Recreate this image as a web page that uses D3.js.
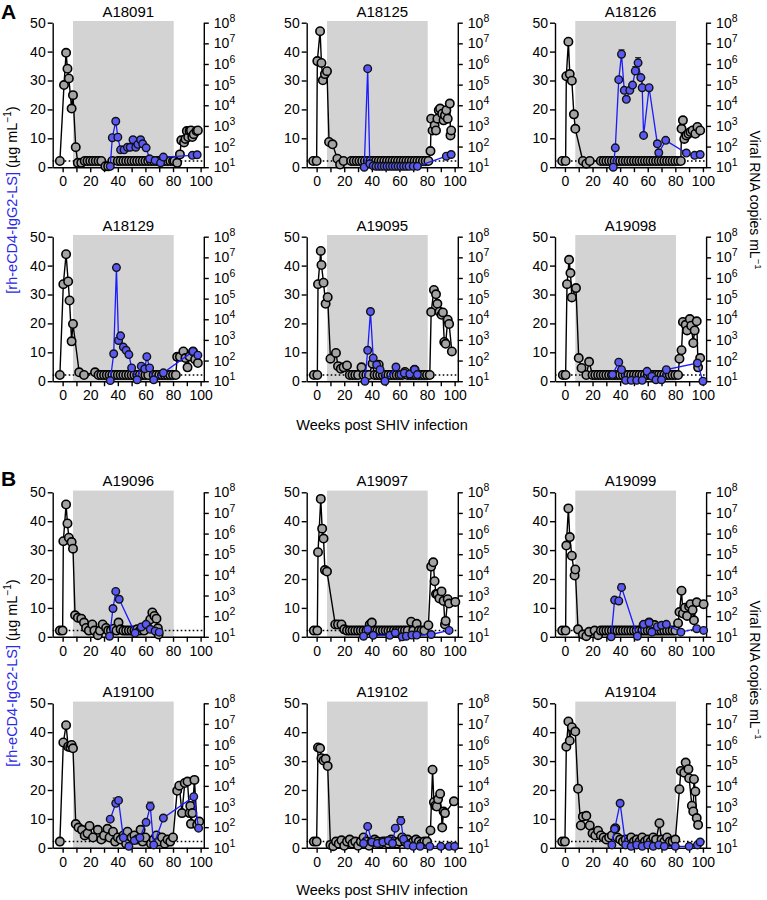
<!DOCTYPE html>
<html><head><meta charset="utf-8">
<script src="https://cdn.jsdelivr.net/npm/d3@7"></script>
<style>
body{margin:0;background:#fff}
text{font-family:"Liberation Sans",Arial,Helvetica,sans-serif}
</style>
</head><body>
<svg id="chart" width="767" height="900"></svg>
<script>
// ---------- shared values ----------
const LOD = 1.3;                       // log10 copies/mL detection limit (dotted line)
const xTicks = [0,10,20,30,40,50,60,70,80,90,100];
const xTickLabels = [0,20,40,60,80,100];
const leftTicks = [0,10,20,30,40,50];
const rightTicks = [1,2,3,4,5,6,7,8];   // log10 copies/mL
const treatmentWeeks = [7.5, 80.5];
const animalsA = ["A18091","A18125","A18126","A18129","A19095","A19098"];
const animalsB = ["A19096","A19097","A19099","A19100","A19102","A19104"];

// ---------- viral load: [week, log10 copies/mL] (detectable) ----------
const vl_A18091 = [[1,4.98],[2.5,6.54],[3.5,5.77],[4.5,5.3],[6.5,3.84],[7.5,4.49],[9.5,1.97],[11,1.21],[13.5,1.21],[31,1.04],[33,1.04],
 [83,1.21],[85,1.62],[86,2.3],[88,2.2],[89,2.37],[90,2.75],[91,2.46],[92,2.75],[93,2.78],[94,2.46],[95,2.6],[97,2.75],[98,2.78]];
const vl_A18125 = [[0.5,6.14],[2.5,7.59],[3.5,6.05],[4.5,5.21],[6,5.51],[7.5,5.65],[9,2.22],[11.5,2.11],[15,1.41],[17,1.13],
 [82.5,1.78],[83,3.35],[84,2.78],[85.5,3.03],[86.5,2.78],[87.5,3.35],[88.5,3.76],[89.5,3.84],[91,3.59],[92,3.27],[93,3.51],[94,3.76],[95,3.35],[96.5,4.08],[97,2.54],[97.5,2.78]];
const vl_A18126 = [[1,5.41],[2.5,7.08],[3.5,5.51],[5,5.19],[6.5,3.56],[7.5,2.86],[15.5,1.17],
 [84.5,2.86],[85.5,3.27],[86.5,2.37],[88,2.54],[89.5,2.62],[91,2.71],[92.5,2.78],[94.5,2.62],[96,2.95],[98,2.78]];
const vl_A18129 = [[0.5,5.7],[2.5,7.15],[4,5.83],[5,4.91],[6.5,2.93],[7.5,3.77],[12,1.43],[23.5,1.43],
 [83,2.18],[85,2.18],[87.5,2.44],[89,2.12],[90.5,1.67],[92,2.2],[94.5,2.44],[96,2.05],[98,1.88]];
const vl_A19095 = [[1,5.7],[3,7.31],[3.5,6.63],[5,5.77],[6.5,4.75],[8,5.07],[10,2.09],[14,2.37],[15.5,1.73],[17.5,1.6],[19.5,1.67],[22,1.76],
 [32.5,1.67],[40.5,1.85],[45,1.8],[64,1.45],[71,1.55],
 [83,4.35],[85,5.42],[86.5,5.21],[87.5,4.75],[89,4.37],[90.5,4.22],[91.5,4.33],[92.5,2.9],[93.5,2.81],[95,3.98],[96,3.77],[98,2.44]];
const vl_A19098 = [[1.5,5.7],[3,6.88],[4,6.24],[5,5.06],[8,5.51],[10,2.12],[12,1.64],[17.5,1.94],
 [83,2.09],[84.5,2.5],[85.5,3.87],[87.5,3.73],[88.5,3.46],[90.5,4.01],[91.5,3.69],[93,2.85],[94,3.46],[95.5,3.9],[96.5,1.67],[98,2.12]];
const vl_A19096 = [[0.5,5.63],[2.5,7.41],[3.5,6.49],[4.5,5.8],[6.5,5.59],[7.5,5.27],[9,2.04],[11,1.92],[13.5,1.88],[15.5,1.69],[17,1.43],[21.5,1.6],
 [25.5,1.08],[29,1.6],[31.5,1.43],[37,1.39],[40.5,1.69],[42,1.36],[54,1.36],[57.5,1.43],[61,1.6],[63.5,1.84],[65,2.18],[66.5,2.01],[68,1.88],[69,1.41],[69.5,1.11]];
const vl_A19097 = [[1,5.1],[3,7.68],[4,6.24],[5,5.76],[6,4.23],[7.5,4.16],[13.5,1.6],[15.5,1.6],[18,1.6],[20,1.36],[38.5,1.6],[40,1.69],[68.5,1.73],[72.5,1.63],[81,1.56],
 [83,4.4],[84.5,4.61],[85.5,3.69],[86.5,3.07],[87.5,3.07],[89,2.86],[90.5,3.2],[92,2.74],[93,1.6],[93.5,1.77],[95,2.82],[96,2.61],[100.5,2.69]];
const vl_A19099 = [[1,5.42],[2.5,7.22],[3.5,5.83],[5,4.93],[7,3.97],[7.5,4.26],[9.5,1.36],[13,1.11],[15.5,1.03],[17.5,1.24],[24,1.08],[57,1.56],[61,1.69],[65,1.57],
 [82,1.66],[83,2.2],[84.5,3.23],[85.5,2.13],[87,2.41],[88.5,2.01],[90,2.47],[91,2.58],[92.5,2.3],[93.5,1.8],[95.5,2.67],[100.5,2.58]];
const vl_A19100 = [[0.5,6.1],[2.5,6.94],[4,5.9],[5.5,5.87],[6.5,5.98],[7.5,5.82],[9.5,2.15],[11.5,1.98],[14,1.87],[16,1.6],[18,1.7],[19.5,2.06],[22,1.5],[25.5,1.87],
 [28,1.4],[30,1.6],[32.5,1.92],[34,1.5],[36.5,1.78],[38,1.3],[40,1.5],[42,1.4],[44,1.6],[46,1.2],[47,1.78],[50,1.5],[52,1.6],[54,1.4],[56.5,1.87],[58,1.3],
 [60,1.5],[64,1.2],[66,1.4],[68,1.6],[70,1.3],[72,1.5],[74,1.2],[76,1.4],[78,1.3],[80,1.5],
 [83,3.76],[84.5,4.01],[86.5,2.68],[88.5,4.14],[90.5,4.21],[92,2.68],[92.5,3.03],[93,2.16],[94,2.68],[95.5,4.29],[97.5,2.11],[99,2.27]];
const vl_A19102 = [[1,5.86],[2.5,5.82],[3.5,5.34],[5,5.23],[6.5,5.31],[8,4.96],[10,1.14],[12,1.08],[14,1.3],[16,1.2],[18,1.36],[20,1.1],[22,1.3],[24,1.4],
 [26,1.2],[28,1.3],[30,1.1],[32,1.3],[34,1.5],[36,1.3],[38,1.1],[40,1.3],[42,1.4],[44,1.3],[46,1.2],[48,1.3],[50,1.3],[52,1.2],[54,1.4],[56,1.3],
 [58,1.2],[60,1.3],[62,1.5],[64,1.3],[66,1.4],[68,1.2],[70,1.3],[72,1.4],[74,1.3],[76,1.2],[78,1.3],[80,1.3],
 [82.5,1.84],[84,4.78],[85,3.21],[86,3.04],[87,3],[88,3.35],[89.5,3.62],[91,1.98],[92,2.76],[93,2.68],[99.5,3.25]];
const vl_A19104 = [[1,5.9],[2.5,7.12],[3.5,6.19],[5,6.84],[7.5,6.63],[9.5,3.86],[11.5,2.08],[13,2.51],[15.5,2.55],[18,2.08],[20,1.7],[22,1.6],[24,1.83],
 [26,1.6],[28,1.5],[30,1.4],[32,1.5],[34,1.6],[36.5,1.95],[38,1.5],[40,1.4],[42,1.3],[44,1.4],[46,1.3],[48,1.5],[50,1.3],[52,1.4],[54,1.3],[56,1.5],
 [58,1.3],[60,1.4],[62,1.3],[64,1.5],[66,1.4],[68.5,2.19],[70,1.4],[72,1.3],[74,1.5],[76,1.3],[78,1.3],[80,1.4],
 [83,3.84],[84,4.72],[86.5,4.64],[87.5,5.13],[89.5,4.81],[90,4.37],[92,3.04],[93,2.76],[93.5,4.32],[94.5,3.73],[95.5,2.44],[96.5,2.11]];

// ---------- viral load below detection: weeks (plotted at LOD) ----------
const und_A18091 = [-2,16,18,20,22,24,26,28,36,40,42,44,46,48,50,52,54,56,58,60,62,64,66,68,70,72,74,76,78,80,81];
const und_A18125 = [-2.5,0,19.5,25,27,29,31,33,35,37,39,41,43,45,47,49,51,53,55,57,59,61,63,65,67,69,71,73,75,77,79,81];
const und_A18126 = [-2,0.5,13,18,26,28,30,32,34,36,38,40,42,44,46,48,50,52,54,56,58,60,62,64,66,68,70,72,74,76,78,80,82,84];
const und_A18129 = [-2,15.5,26,28,30,32,34,36,38,40,42,44,46,48,50,52,54,56,58,60,62,66,68,70,72,74,76,78,80,82];
const und_A19095 = [-2,0.5,24,26,28,30,34,36,38,42,44,46,48,50,52,54,56,58,60,62,66,68,70,72,74,76,78,80,82];
const und_A19098 = [-1.5,0.5,15.5,20,22,24,26,28,30,32,34,36,38,40,42,44,46,48,50,52,54,56,58,60,62,64,66,68,70,72,74,76,78,80,82];
const und_A19096 = [-2,0,19,23,27,33,35,39,44,46,48,50,52,56,59];
const und_A19097 = [-2,0.5,22,24,26,28,30,32,34,36,42,44,46,48,50,52,54,56,58,60,62,64,66,70,74,76,78];
const und_A19099 = [-2,0.5,21.5,26,28,30,32,34,36,38,40,42,44,46,48,50,52,54,56,58,60,62,64,66,68,70,72,74,76,78,80];
const und_A19100 = [-2];
const und_A19102 = [-2,0];
const und_A19104 = [-2,0];

// ---------- rh-eCD4-IgG2-LS: [week, µg/mL, error] ----------
const ab_A18091 = [[34.5,0.3],[36,10.2],[38.5,15.9],[40,10.4],[42,6],[44.5,6],[47,6.9],[49,6.9],[51,9.5],[53,6.9],[54.5,7.9],[56.5,9.5],[58,8.1],[60.5,6.7],
 [63,2.9],[67,2.3],[71,1.5],[73,3.5],[94,4.1],[97.5,4.3]];
const ab_A18125 = [[34.5,0],[37,34.1],[38.5,1.2],[41,0.5],[43,0.3],[45,0.3],[47,0.3],[49,0.3],[51,0.3],[53,0.3],[55,0.3],[57,0.3],[59,0.3],[61,0.3],
 [63,0.3],[65,0.3],[67,0.3],[70,0.3],[73,0.3],[94,3.8],[97.5,4.4]];
const ab_A18126 = [[35,0],[36.5,6.7],[39,30.3],[41,39.1,1.5],[43,26.6],[44.5,23.5],[47,26.6],[49,28.4],[51,33.3,1.5],[53,36.1,1.8],[55,31],[56,27.5,3.5],
 [57,11],[61,27.5],[67,8.1],[68,5],[73,9.3],[88,4.9],[94,4.1],[98,4.4]];
const ab_A18129 = [[34.5,0.2],[37,9.5],[39,39.3],[40.5,14.1],[42,15.7],[44,11.8],[46,10.7],[48,9.2],[50,4.6],[54,0.5],[57,5.2],[59.5,4.3],[61,8.5],[63,4.6],
 [66,0.5],[73,2.9],[94.5,10.3],[98,9]];
const ab_A19095 = [[35,0],[37,10.7],[39,24.1],[41,8],[43.5,5.7],[46,4],[49.5,0],[57.5,4.9],[61,2.3],[63.5,2.8],[67.5,2.5],[71,4],[73,2.3]];
const ab_A19098 = [[34.5,2.3],[39,6.6],[41,4],[44,0.3],[48,0.3],[52,0.3],[56,0.3],[59.5,3.4],[63,1.7],[66,0.5],[70,0.5],[73.5,4],[96,6.3],[100,0]];
const ab_A19096 = [[34,0.2],[36.5,9.8,1],[38.5,15.7],[41,13],[52.5,1.3],[57,3.4],[60.5,4.3],[63.5,2.6],[67,2],[70,1.6]];
const ab_A19097 = [[34,0.2],[37,2.6],[41,0.5],[53,0.5],[57,1.4],[62,0],[65,0.2],[69,0.6],[72.5,0.6],[83,0.8],[96,2.2]];
const ab_A19099 = [[33.5,0],[36,12.7],[39,12.4],[41,17.1,1.2],[52.5,0.2],[57,4.3],[61,4.9],[63,1.6],[67,3.5],[70,4],[73.5,4.3],[84,1.6],[95.5,2.8],[100.5,2.2]];
const ab_A19100 = [[34.5,9.9],[38.5,15.4,1.8],[40.5,16.4],[44,3.5],[48,0.5],[52,2.5],[56,3.5],[60.5,8.8],[63.5,14.3,1.5],[66,1],[73,10.3],[95,17.7],[98.5,6.8]];
const ab_A19102 = [[34,1.5],[37,7.4],[40,2],[44,1.5],[48,2],[52,2.5],[55,1.5],[57,6.8],[61,9.3,1.5],[63,3],[66,1],[70,0.5],[75,0.5],[82,0.5],[90,0.5],[96,0.5],[100,0.5]];
const ab_A19104 = [[34,1],[36,6.5],[40,15.4],[44,1],[48,0.5],[52,1],[56,0.5],[60,1],[64,0.5],[68,1],[72,0.5],[80,0.5],[90,0.5],[96,1],[98,2]];

// ---------- build panel table ----------
const vlData = {A18091:vl_A18091,A18125:vl_A18125,A18126:vl_A18126,A18129:vl_A18129,A19095:vl_A19095,A19098:vl_A19098,
  A19096:vl_A19096,A19097:vl_A19097,A19099:vl_A19099,A19100:vl_A19100,A19102:vl_A19102,A19104:vl_A19104};
const undData = {A18091:und_A18091,A18125:und_A18125,A18126:und_A18126,A18129:und_A18129,A19095:und_A19095,A19098:und_A19098,
  A19096:und_A19096,A19097:und_A19097,A19099:und_A19099,A19100:und_A19100,A19102:und_A19102,A19104:und_A19104};
const abData = {A18091:ab_A18091,A18125:ab_A18125,A18126:ab_A18126,A18129:ab_A18129,A19095:ab_A19095,A19098:ab_A19098,
  A19096:ab_A19096,A19097:ab_A19097,A19099:ab_A19099,A19100:ab_A19100,A19102:ab_A19102,A19104:ab_A19104};

const colX = [52.7, 306.7, 555];
const rowY = [22.7, 236.7, 492.3, 703.3];
const PW = 151.1, PH = 144.5;
const BLUE_LINE = "#1b1bff", BLUE_FILL = "#5a5af2", GRAY_FILL = "#a3a3a3", SHADE = "#d3d3d3";

const svg = d3.select("#chart");
const panels = [];
animalsA.forEach((id,i)=>panels.push({id, col:i%3, row:Math.floor(i/3)}));
animalsB.forEach((id,i)=>panels.push({id, col:i%3, row:2+Math.floor(i/3)}));

panels.forEach(p=>{
  const x0 = colX[p.col], y0 = rowY[p.row];
  const x = d3.scaleLinear().domain([-7.2,102.3]).range([x0, x0+PW]);
  const yL = d3.scaleLinear().domain([0,50]).range([y0+PH, y0]);
  const yR = d3.scaleLinear().domain([1,8]).range([y0+PH, y0]);
  const g = svg.append("g");

  // treatment shading
  g.append("rect").attr("x", x(treatmentWeeks[0])).attr("y", yL(50.6))
    .attr("width", x(treatmentWeeks[1]) - x(treatmentWeeks[0]))
    .attr("height", yL(0) - yL(50.6)).attr("fill", SHADE);

  // detection limit
  g.append("line").attr("x1", x0).attr("x2", x0+PW).attr("y1", yR(LOD)).attr("y2", yR(LOD))
    .attr("stroke","#000").attr("stroke-width",1.5).attr("stroke-dasharray","1.6,2.4");

  // axes
  const ax = g.append("g").attr("transform",`translate(0,${y0+PH})`)
    .call(d3.axisBottom(x).tickValues(xTicks).tickSize(5).tickSizeOuter(0).tickPadding(4)
      .tickFormat(d=> xTickLabels.includes(d) ? d : ""));
  const al = g.append("g").attr("transform",`translate(${x0},0)`)
    .call(d3.axisLeft(yL).tickValues(leftTicks).tickSize(5).tickSizeOuter(0).tickPadding(2));
  const ar = g.append("g").attr("transform",`translate(${x0+PW},0)`)
    .call(d3.axisRight(yR).tickValues(rightTicks).tickSize(5).tickSizeOuter(0).tickFormat(()=>""));
  [ax,al,ar].forEach(a=>{
    a.selectAll("path,line").attr("stroke","#000").attr("stroke-width",1.4);
    a.selectAll("text").attr("font-size",14).attr("fill","#000").attr("font-family",'"Liberation Sans",Arial,sans-serif');
  });
  rightTicks.forEach(t=>{
    const tx = g.append("text").attr("x", x0+PW+10).attr("y", yR(t)+5).attr("font-size",14).attr("fill","#000");
    tx.append("tspan").text("10");
    tx.append("tspan").attr("dy",-6).attr("font-size",10.5).text(t);
  });

  // title
  g.append("text").attr("x", x0+PW/2).attr("y", y0-6).attr("text-anchor","middle")
    .attr("font-size",15).text(p.id);

  // viral load series
  const vl = vlData[p.id].map(d=>({w:d[0], v:d[1]}))
    .concat(undData[p.id].map(w=>({w, v:LOD})))
    .sort((a,b)=>a.w-b.w);
  g.append("path").datum(vl)
    .attr("d", d3.line().x(d=>x(d.w)).y(d=>yR(d.v)))
    .attr("fill","none").attr("stroke","#000").attr("stroke-width",1.4);
  g.selectAll("circle.vl").data(vl).join("circle").attr("class","vl")
    .attr("cx",d=>x(d.w)).attr("cy",d=>yR(d.v)).attr("r",4.2)
    .attr("fill",GRAY_FILL).attr("stroke","#000").attr("stroke-width",1.6);

  // antibody series
  const ab = abData[p.id].map(d=>({w:d[0], v:d[1], e:d[2]||0}));
  g.append("path").datum(ab)
    .attr("d", d3.line().x(d=>x(d.w)).y(d=>yL(d.v)))
    .attr("fill","none").attr("stroke",BLUE_LINE).attr("stroke-width",1.3);
  const eb = ab.filter(d=>d.e>0);
  eb.forEach(d=>{
    g.append("line").attr("x1",x(d.w)).attr("x2",x(d.w)).attr("y1",yL(d.v)).attr("y2",yL(d.v+d.e))
      .attr("stroke","#222").attr("stroke-width",1.2);
    g.append("line").attr("x1",x(d.w)-3).attr("x2",x(d.w)+3).attr("y1",yL(d.v+d.e)).attr("y2",yL(d.v+d.e))
      .attr("stroke","#222").attr("stroke-width",1.2);
  });
  g.selectAll("circle.ab").data(ab).join("circle").attr("class","ab")
    .attr("cx",d=>x(d.w)).attr("cy",d=>yL(d.v)).attr("r",3.8)
    .attr("fill",BLUE_FILL).attr("stroke","#111").attr("stroke-width",1.4);
});

// panel letters
svg.append("text").attr("x",1).attr("y",19).attr("font-size",21).attr("font-weight","bold").text("A");
svg.append("text").attr("x",1).attr("y",486).attr("font-size",21).attr("font-weight","bold").text("B");

// axis titles
function leftTitle(cy){
  const t = svg.append("text").attr("transform",`translate(17,${cy}) rotate(-90)`)
    .attr("text-anchor","middle").attr("font-size",14.5);
  t.append("tspan").attr("fill","#2a2ae6").text("[rh-eCD4-IgG2-LS]");
  t.append("tspan").attr("fill","#000").text(" (µg mL");
  t.append("tspan").attr("fill","#000").attr("dy",-6).attr("font-size",10).text("−1");
  t.append("tspan").attr("fill","#000").attr("dy",6).text(")");
}
function rightTitle(cy){
  const t = svg.append("text").attr("transform",`translate(750,${cy}) rotate(90)`)
    .attr("text-anchor","middle").attr("font-size",14);
  t.append("tspan").text("Viral RNA copies mL");
  t.append("tspan").attr("dy",-5).attr("font-size",9.5).text("−1");
}
function xTitle(y){
  svg.append("text").attr("x",382).attr("y",y).attr("text-anchor","middle").attr("font-size",14.5)
    .text("Weeks post SHIV infection");
}
leftTitle(200); rightTitle(200); xTitle(430);
leftTitle(673); rightTitle(670); xTitle(895);
</script>
</body></html>
